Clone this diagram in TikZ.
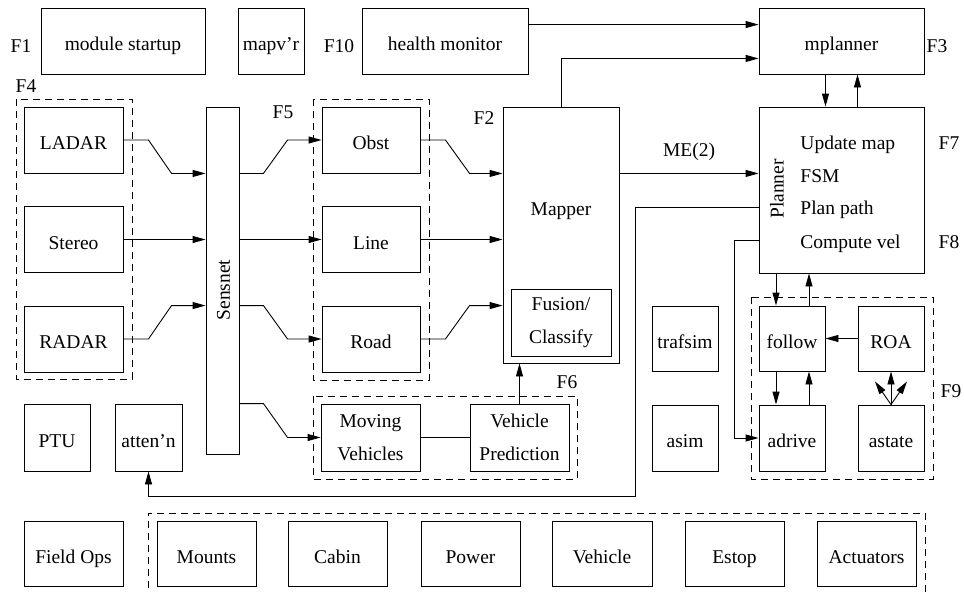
\documentclass[tikz,border=0pt]{standalone}
\usepackage{fontspec}
\setmainfont{Liberation Serif}
\usetikzlibrary{arrows.meta}
\begin{document}
\begin{tikzpicture}[x=1pt,y=-1pt,line width=0.9pt,
  every node/.style={font=\fontsize{19.5}{32.5}\selectfont, inner sep=0pt},
  bx/.style 2 args={draw, minimum width=#1, minimum height=#2, text height=23pt, text depth=4pt},
  mbx/.style 2 args={draw, minimum width=#1, minimum height=#2, align=center},
  ebx/.style 2 args={draw, minimum width=#1, minimum height=#2},
  lbl/.style={anchor=base},
  dsh/.style={draw, dash pattern=on 7pt off 5pt},
  arr/.style={-{Triangle[length=13pt,width=7pt]}}]
\useasboundingbox (0,0) rectangle (964,592);

% top row
\node[bx={164pt}{66pt}] (startup) at (123,41) {module startup};
\node[bx={66pt}{66pt}] (mapvr) at (271,41) {mapv'r};
\node[bx={166pt}{66pt}] (health) at (445,41) {health monitor};
\node[bx={165pt}{66pt}] (mplanner) at (841.5,41) {mplanner};
\node[lbl] (f1) at (21,52) {F1};
\node[lbl] (f10) at (339,52) {F10};
\node[lbl] (f3) at (937,52) {F3};

% F4 sensors
\draw[dsh] (16,99) rectangle (132,379);
\node[lbl] (f4) at (26,92) {F4};
\node[bx={99pt}{66pt}] (ladar) at (73.5,140) {LADAR};
\node[bx={99pt}{66pt}] (stereo) at (73.5,239.5) {Stereo};
\node[bx={99pt}{66pt}] (radar) at (73.5,339) {RADAR};

% Sensnet
\node[ebx={33pt}{347pt}] (sensnet) at (222.5,280.5) {};
\node[rotate=90] (sensnettxt) at (223.5,290) {Sensnet};

% F5
\draw[dsh] (313,99) rectangle (429,380);
\node[lbl] (f5) at (283,118) {F5};
\node[bx={98pt}{66pt}] (obst) at (371,140) {Obst};
\node[bx={98pt}{66pt}] (line) at (371,239.5) {Line};
\node[bx={98pt}{66pt}] (road) at (371,339) {Road};

% Mapper
\node[ebx={116pt}{256pt}] (mapper) at (561,235) {};
\node[lbl] (mappertxt) at (561,215) {Mapper};
\node[mbx={100pt}{67pt}] (fusion) at (561,322.5) {Fusion/\\Classify};
\node[lbl] (f2) at (484,124) {F2};

% F6
\draw[dsh] (313,396) rectangle (577,479);
\node[lbl] (f6) at (567,388) {F6};
\node[mbx={99pt}{67pt}] (mv) at (370.5,437.5) {Moving\\Vehicles};
\node[mbx={99pt}{67pt}] (vp) at (519.5,437.5) {Vehicle\\Prediction};

% left bottom
\node[bx={66pt}{67pt}] (ptu) at (57,437.5) {PTU};
\node[bx={67pt}{67pt}] (atten) at (148.5,437.5) {atten'n};

% Planner
\node[ebx={165pt}{166pt}] (planner) at (841.5,190) {};
\node[rotate=90] (plannertxt) at (777,189) {Planner};
\node[anchor=base west] (upd) at (800,149) {Update map};
\node[anchor=base west] (fsm) at (800,182) {FSM};
\node[anchor=base west] (ppath) at (800,214) {Plan path};
\node[anchor=base west] (cvel) at (800,248) {Compute vel};
\node[lbl] (f7) at (949,149) {F7};
\node[lbl] (f8) at (949,248) {F8};

% sims
\node[bx={66pt}{65pt}] (trafsim) at (685,338.5) {trafsim};
\node[bx={66pt}{66pt}] (asim) at (685,438) {asim};

% F9
\draw[dsh] (751,297) rectangle (933,479);
\node[lbl] (f9) at (951,397) {F9};
\node[bx={66pt}{65pt}] (follow) at (792,338.5) {follow};
\node[bx={66pt}{65pt}] (roa) at (891,338.5) {ROA};
\node[bx={66pt}{66pt}] (adrive) at (792,438) {adrive};
\node[bx={66pt}{66pt}] (astate) at (891,438) {astate};

% bottom row
\node[bx={99pt}{65pt}] (fieldops) at (73.5,553.5) {Field Ops};
\draw[dsh] (148,600) -- (148,513) -- (925,513) -- (925,600);
\node[bx={99pt}{65pt}] (mounts) at (206.5,553.5) {Mounts};
\node[bx={99pt}{65pt}] (cabin) at (337.5,553.5) {Cabin};
\node[bx={99pt}{65pt}] (power) at (470.5,553.5) {Power};
\node[bx={100pt}{65pt}] (vehicle) at (602,553.5) {Vehicle};
\node[bx={99pt}{65pt}] (estop) at (734.5,553.5) {Estop};
\node[bx={99pt}{65pt}] (actuators) at (866.5,553.5) {Actuators};

% connectors: sensors -> sensnet
\draw[arr] (ladar.east) -- ++(25,0) -- ([xshift=-34pt]sensnet.west |- ladar.south) -- (sensnet.west |- ladar.south);
\draw[arr] (stereo.east) -- (sensnet.west |- stereo.east);
\draw[arr] (radar.east) -- ++(25,0) -- ([xshift=-34pt]sensnet.west |- radar.north) -- (sensnet.west |- radar.north);

% sensnet -> F5 / F6
\draw[arr] (sensnet.east |- ladar.south) -- ++(24,0) -- ([xshift=-34pt]obst.west) -- (obst.west);
\draw[arr] (sensnet.east |- stereo.east) -- (line.west);
\draw[arr] (sensnet.east |- radar.north) -- ++(24,0) -- ([xshift=-34pt]road.west) -- (road.west);
\draw[arr] (sensnet.east |- mv.north) -- ++(24,0) -- ([xshift=-33pt]mv.west) -- (mv.west);

% F5 -> mapper
\draw[arr] (obst.east) -- ++(25,0) -- ([xshift=-33pt]mapper.west |- obst.south) -- (mapper.west |- obst.south);
\draw[arr] (line.east) -- (mapper.west |- line.east);
\draw[arr] (road.east) -- ++(25,0) -- ([xshift=-33pt]mapper.west |- road.north) -- (mapper.west |- road.north);

% F6
\draw (mv.east) -- (vp.west);
\draw[arr] (vp.north) -- (vp.north |- mapper.south);

% mapper -> planner / mplanner
\draw[arr] (mapper.east |- obst.south) -- node[above=12pt, inner sep=0pt] (me2) {ME(2)} (planner.west |- obst.south);
\draw[arr] (mapper.north) |- ([yshift=16pt]mplanner.south west);
\draw[arr] ([yshift=-17pt]health.north east) -- ([yshift=-17pt]mplanner.north west);

% mplanner <-> planner
\draw[arr] ([xshift=-16pt]mplanner.south) -- ([xshift=-16pt]planner.north);
\draw[arr] ([xshift=16pt]planner.north) -- ([xshift=16pt]mplanner.south);

% planner -> atten'n
\coordinate (c1) at (635,496);
\draw[arr] ([yshift=-17pt]planner.west) -| (c1) -| (atten.south);

% planner -> adrive
\coordinate (c2) at (734,438);
\draw[arr] ([yshift=-50pt]planner.west) -| (c2) -- (adrive.west);

% planner <-> follow
\draw[arr] ([xshift=-16pt]follow.north |- planner.south) -- ([xshift=-16pt]follow.north);
\draw[arr] ([xshift=17pt]follow.north) -- ([xshift=17pt]follow.north |- planner.south);

% follow <-> adrive
\draw[arr] ([xshift=-16pt]follow.south) -- ([xshift=-16pt]adrive.north);
\draw[arr] ([xshift=17pt]adrive.north) -- ([xshift=17pt]follow.south);

% ROA -> follow
\draw[arr] (roa.west) -- (follow.east);

% astate -> ROA
\draw[arr] (astate.north) -- (roa.south);
\draw[arr] (astate.north) -- ([xshift=-16pt,yshift=-10pt]roa.south);
\draw[arr] (astate.north) -- ([xshift=16pt,yshift=-10pt]roa.south);
\end{tikzpicture}
\end{document}
